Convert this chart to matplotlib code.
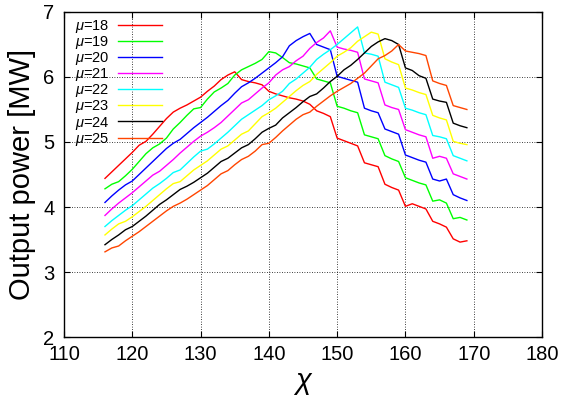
import matplotlib
matplotlib.use("Agg")
import matplotlib.pyplot as plt

plt.rcParams['font.family'] = ['Liberation Sans', 'DejaVu Sans']
plt.rcParams['mathtext.fontset'] = 'custom'
plt.rcParams['mathtext.it'] = 'Liberation Sans:italic'
plt.rcParams['mathtext.rm'] = 'Liberation Sans'

chi = list(range(116, 170))

mu_18 = [4.44, 4.54, 4.64, 4.74, 4.84, 4.95, 5.01, 5.12, 5.24, 5.36,
         5.46, 5.52, 5.57, 5.63, 5.69, 5.78, 5.86, 5.96, 6.03, 6.08,
         5.96, 5.93, 5.91, 5.88, 5.78, 5.74, 5.71, 5.68, 5.66, 5.63,
         5.58, 5.48, 5.44, 5.39, 5.06, 5.02, 4.98, 4.94, 4.68, 4.65,
         4.62, 4.35, 4.30, 4.26, 4.01, 4.05, 4.01, 3.97, 3.78, 3.74,
         3.69, 3.51, 3.46, 3.48]
mu_19 = [4.28, 4.35, 4.39, 4.48, 4.58, 4.70, 4.82, 4.91, 4.97, 5.06,
         5.20, 5.30, 5.41, 5.51, 5.53, 5.66, 5.77, 5.83, 5.90, 6.03,
         6.11, 6.16, 6.21, 6.27, 6.39, 6.37, 6.30, 6.22, 6.20, 6.17,
         6.14, 5.97, 5.94, 5.91, 5.55, 5.52, 5.48, 5.45, 5.11, 5.08,
         5.05, 4.79, 4.74, 4.70, 4.45, 4.41, 4.37, 4.34, 4.09, 4.11,
         4.06, 3.82, 3.84, 3.80]
mu_20 = [4.07, 4.17, 4.26, 4.34, 4.40, 4.50, 4.60, 4.70, 4.80, 4.90,
         4.98, 5.04, 5.13, 5.22, 5.30, 5.38, 5.47, 5.56, 5.64, 5.75,
         5.85, 5.91, 5.98, 6.06, 6.14, 6.22, 6.31, 6.48, 6.56, 6.62,
         6.67, 6.50, 6.46, 6.42, 6.01, 5.98, 5.95, 5.92, 5.52, 5.48,
         5.45, 5.20, 5.16, 5.12, 4.80, 4.76, 4.72, 4.69, 4.43, 4.40,
         4.43, 4.19, 4.14, 4.10]
mu_21 = [3.87, 3.97, 4.06, 4.14, 4.22, 4.31, 4.40, 4.49, 4.55, 4.64,
         4.73, 4.83, 4.92, 5.01, 5.09, 5.15, 5.22, 5.30, 5.40, 5.50,
         5.60, 5.65, 5.74, 5.83, 5.91, 6.03, 6.11, 6.16, 6.25, 6.32,
         6.44, 6.53, 6.60, 6.71, 6.46, 6.43, 6.41, 6.38, 5.97, 5.94,
         5.91, 5.57, 5.53, 5.50, 5.19, 5.15, 5.11, 5.08, 4.75, 4.78,
         4.75, 4.51, 4.47, 4.43]
mu_22 = [3.70, 3.79, 3.87, 3.95, 4.02, 4.11, 4.20, 4.29, 4.36, 4.44,
         4.53, 4.57, 4.67, 4.77, 4.86, 4.89, 4.97, 5.06, 5.15, 5.25,
         5.35, 5.42, 5.49, 5.56, 5.65, 5.71, 5.78, 5.90, 5.97, 6.06,
         6.15, 6.27, 6.35, 6.42, 6.50, 6.59, 6.68, 6.77, 6.37, 6.35,
         6.32, 5.92, 5.88, 5.84, 5.52, 5.49, 5.45, 5.42, 5.10, 5.08,
         5.05, 4.79, 4.75, 4.71]
mu_23 = [3.57, 3.66, 3.74, 3.78, 3.85, 3.93, 4.01, 4.10, 4.19, 4.28,
         4.36, 4.39, 4.48, 4.57, 4.64, 4.71, 4.80, 4.89, 4.94, 5.03,
         5.12, 5.17, 5.28, 5.39, 5.45, 5.52, 5.61, 5.70, 5.79, 5.87,
         5.93, 6.04, 6.13, 6.22, 6.32, 6.38, 6.45, 6.55, 6.62, 6.69,
         6.66, 6.28, 6.23, 6.19, 5.83, 5.80, 5.76, 5.73, 5.41, 5.37,
         5.34, 5.01, 4.98, 4.96]
mu_24 = [3.42, 3.50, 3.57, 3.65, 3.70, 3.78, 3.86, 3.95, 4.04, 4.11,
         4.19, 4.27, 4.32, 4.38, 4.45, 4.52, 4.61, 4.70, 4.75, 4.83,
         4.91, 4.96, 5.05, 5.15, 5.21, 5.26, 5.37, 5.45, 5.53, 5.62,
         5.70, 5.74, 5.83, 5.93, 6.01, 6.11, 6.18, 6.27, 6.37, 6.47,
         6.54, 6.59, 6.56, 6.50, 6.14, 6.10, 6.02, 5.98, 5.66, 5.63,
         5.61, 5.29, 5.25, 5.22]
mu_25 = [3.31, 3.37, 3.40, 3.48, 3.55, 3.62, 3.70, 3.78, 3.86, 3.94,
         4.01, 4.06, 4.12, 4.19, 4.26, 4.33, 4.42, 4.51, 4.56, 4.65,
         4.73, 4.78, 4.86, 4.96, 4.98, 5.07, 5.17, 5.26, 5.35, 5.42,
         5.46, 5.55, 5.63, 5.71, 5.78, 5.84, 5.90, 5.98, 6.06, 6.17,
         6.28, 6.33, 6.40, 6.50, 6.40, 6.38, 6.36, 6.33, 5.94, 5.90,
         5.87, 5.56, 5.53, 5.50]

series = [mu_18, mu_19, mu_20, mu_21, mu_22, mu_23, mu_24, mu_25]
mu_labels = ['18', '19', '20', '21', '22', '23', '24', '25']
colors = ['#ff0000', '#00ff00', '#0000ff', '#ff00ff',
          '#00ffff', '#ffff00', '#000000', '#ff4500']

x_ticks = [110, 120, 130, 140, 150, 160, 170, 180]
y_ticks = [2, 3, 4, 5, 6, 7]

fig = plt.figure(figsize=(5.62, 3.97), dpi=100)
ax = fig.add_axes([0.1139, 0.1511, 0.8505, 0.8187])

for ys, lab, c in zip(series, mu_labels, colors):
    ax.plot(chi, ys, color=c, lw=1.0, label=r'$\mu$=' + lab)

ax.set_xlim(110, 180)
ax.set_ylim(2, 7)
ax.set_xticks(x_ticks)
ax.set_yticks(y_ticks)
ax.tick_params(direction='in', length=4, width=0.8, top=True, right=True,
               labelsize=14.5)
ax.tick_params(axis='x', pad=6)
ax.tick_params(axis='y', pad=7)
ax.grid(True, color='black', linestyle=(0, (1, 2)), linewidth=0.6)
for s in ax.spines.values():
    s.set_linewidth(1.0)

ax.set_xlabel('χ', fontsize=21, fontstyle='italic', labelpad=2)
ax.set_ylabel('Output power [MW]', fontsize=21, labelpad=5)

# legend: text first, line sample after, tight rows like the original
ax.legend(loc='upper left', bbox_to_anchor=(0.01, 1.0), frameon=False,
          markerfirst=False, fontsize=10.5, handlelength=3.0,
          handletextpad=0.6, labelspacing=-0.06, borderaxespad=0.0)

fig.savefig('out.png', dpi=100)
